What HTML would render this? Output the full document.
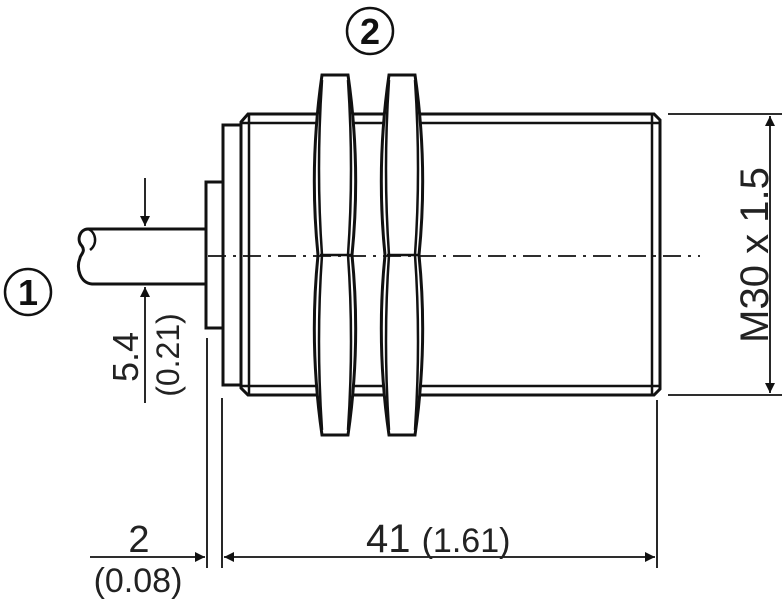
<!DOCTYPE html>
<html><head><meta charset="utf-8"><style>html,body{margin:0;padding:0;background:#fff}svg{display:block}</style></head>
<body>
<svg width="782" height="600" viewBox="0 0 782 600" xmlns="http://www.w3.org/2000/svg" font-family="Liberation Sans, sans-serif">
<defs>
<marker id="ar" viewBox="0 0 10 10" refX="10" refY="5" markerWidth="18" markerHeight="10" markerUnits="userSpaceOnUse" orient="auto-start-reverse"><path d="M0,0 L10,5 L0,10 z" fill="#111"/></marker>
</defs>
<g fill="none" stroke="#111" stroke-width="3">
<path d="M206,229 H88 C80,229 76,240 82,246 C86,252 80,255 80,258 C76,268 80,283 92,284 H206"/>
<path d="M88,229 C96,232 98,244 90,250" stroke-width="2.5"/>
<rect x="206" y="182" width="17" height="146"/>
<rect x="223" y="125" width="18" height="260"/>
<path d="M241,122 L248,114 H654 L660,120 V389 L654,395 H248 L241,388 Z"/>
<path d="M241,123 H660 M241,386 H660" stroke-width="2.5"/>
<path d="M249,114 V395 M652,114 V395" stroke-width="2.5"/>
</g>
<g fill="#fff" stroke="#111" stroke-width="3">
<path d="M322,75 H348 Q361,165 352,255 Q361,345 348,435 H322 Q309,345 318,255 Q309,165 322,75 Z"/>
<path d="M389,75 H415 Q428,165 419,255 Q428,345 415,435 H389 Q376,345 385,255 Q376,165 389,75 Z"/>
</g>
<g fill="none" stroke="#111" stroke-width="2.5">
<path d="M322,80 Q316,170 322,255 Q316,340 322,430 M348,80 Q354,170 348,255 Q354,340 348,430"/>
<path d="M389,80 Q383,170 389,255 Q383,340 389,430 M415,80 Q421,170 415,255 Q421,340 415,430"/>
<path d="M320,255 H352 M387,255 H419"/>
</g>
<path d="M208,256 H700" stroke="#111" stroke-width="1.8" stroke-dasharray="18,7,3,7" fill="none"/>
<g stroke="#111" stroke-width="1.8" fill="none">
<path d="M145,178 V226" marker-end="url(#ar)"/>
<path d="M145,403 V287" marker-end="url(#ar)"/>
<path d="M207,338 V568 M222,398 V568 M657,400 V568"/>
<path d="M90,557 H205" marker-end="url(#ar)"/>
<path d="M224,557 H655" marker-start="url(#ar)" marker-end="url(#ar)"/>
<path d="M668,114 H782 M668,395 H782"/>
<path d="M770,116 V393" marker-start="url(#ar)" marker-end="url(#ar)"/>
</g>
<circle cx="370" cy="31" r="23" fill="none" stroke="#111" stroke-width="2.5"/>
<text x="370" y="44" font-size="36" font-weight="bold" text-anchor="middle" fill="#111">2</text>
<circle cx="28" cy="292" r="23" fill="none" stroke="#111" stroke-width="2.5"/>
<text x="28" y="305" font-size="36" font-weight="bold" text-anchor="middle" fill="#111">1</text>
<g fill="#222">
<text x="139" y="552" font-size="38" text-anchor="middle">2</text>
<text x="138" y="592" font-size="34" text-anchor="middle">(0.08)</text>
<text x="366" y="552" font-size="40">41 <tspan font-size="34">(1.61)</tspan></text>
<text transform="translate(138,357) rotate(-90)" font-size="36" text-anchor="middle">5.4</text>
<text transform="translate(179,355) rotate(-90)" font-size="32" text-anchor="middle">(0.21)</text>
<text transform="translate(768,255) rotate(-90)" font-size="40" text-anchor="middle">M30 x 1.5</text>
</g>
</svg>
</body></html>
